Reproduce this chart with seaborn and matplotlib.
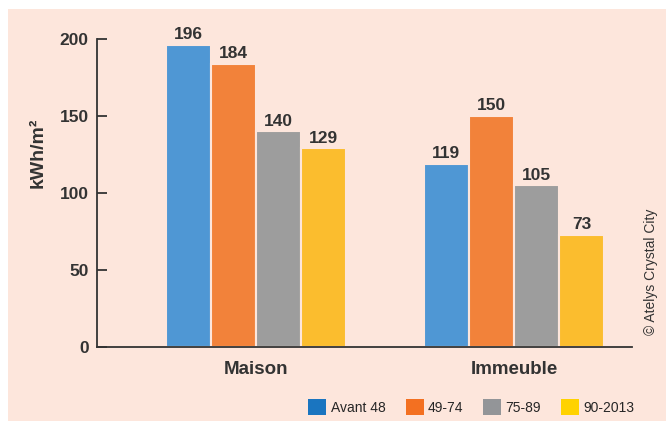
import matplotlib
matplotlib.use("Agg")
import matplotlib.pyplot as plt
import matplotlib.patches as mpatches
import seaborn as sns
import pandas as pd

types = ["Maison", "Immeuble"]
periods = ["Avant 48", "49-74", "75-89", "90-2013"]
maison = [196, 184, 140, 129]
immeuble = [119, 150, 105, 73]
y_ticks = [0, 50, 100, 150, 200]

bar_colors = ["#4f97d4", "#f2823a", "#9d9d9d", "#fbbd2e"]
legend_colors = ["#1a75c0", "#f37021", "#939598", "#ffd200"]
bg = "#fde6dc"
txt = "#333333"

df = pd.DataFrame({
    "type": [types[0]] * 4 + [types[1]] * 4,
    "period": periods * 2,
    "value": maison + immeuble,
})

sns.set_style("white")
plt.rcParams["font.family"] = ["Liberation Sans", "DejaVu Sans"]

fig = plt.figure(figsize=(6.66, 4.21), dpi=100, facecolor="white")
# pink panel with a thin white margin at the top and left
fig.patches.append(mpatches.Rectangle((8 / 666, 0), 1 - 8 / 666, (421 - 9) / 421,
                                      transform=fig.transFigure, facecolor=bg,
                                      edgecolor="none", zorder=-10))
ax = fig.add_axes([97 / 666, 74 / 421, (632 - 97) / 666, (347 - 39) / 421])
ax.set_facecolor("none")

sns.barplot(data=df, x="type", y="value", hue="period", order=types,
            hue_order=periods, palette=bar_colors, width=0.7, gap=0,
            edgecolor=bg, linewidth=1.5, saturation=1, ax=ax, legend=False)

for cont in ax.containers:
    ax.bar_label(cont, fmt="%d", padding=2, fontsize=12.5, fontweight="bold",
                 color=txt, clip_on=False)

ax.set_xlim(-0.616, 1.457)
ax.set_ylim(0, 200)
ax.set_yticks(y_ticks)
ax.set_yticklabels([str(v) for v in y_ticks], fontsize=12.5, fontweight="bold", color=txt)
ax.tick_params(axis="y", direction="in", length=7, width=1.3, color=txt, pad=6, left=True)
ax.tick_params(axis="x", length=0, pad=10)
for lab in ax.get_xticklabels():
    lab.set_fontsize(13.5)
    lab.set_fontweight("bold")
    lab.set_color(txt)
ax.set_xlabel("")
ax.set_ylabel("kWh/m²", fontsize=14, fontweight="bold", color=txt)
ax.yaxis.set_label_coords(-0.095, 0.63)

for s in ["top", "right"]:
    ax.spines[s].set_visible(False)
for s in ["left", "bottom"]:
    ax.spines[s].set_color(txt)
    ax.spines[s].set_linewidth(1.3)

fig.text(651 / 666, (421 - 272) / 421, "© Atelys Crystal City", rotation=90,
         ha="center", va="center", fontsize=10, color=txt)

handles = [mpatches.Patch(facecolor=c, edgecolor="none", label=p)
           for c, p in zip(legend_colors, periods)]
fig.legend(handles=handles, loc="center right", bbox_to_anchor=(640 / 666, 14 / 421),
           ncol=4, frameon=False, fontsize=10, handlelength=1.3, handleheight=1.3,
           handletextpad=0.3, columnspacing=1.45, borderaxespad=0)

fig.savefig("out.png", dpi=100, facecolor="white")
